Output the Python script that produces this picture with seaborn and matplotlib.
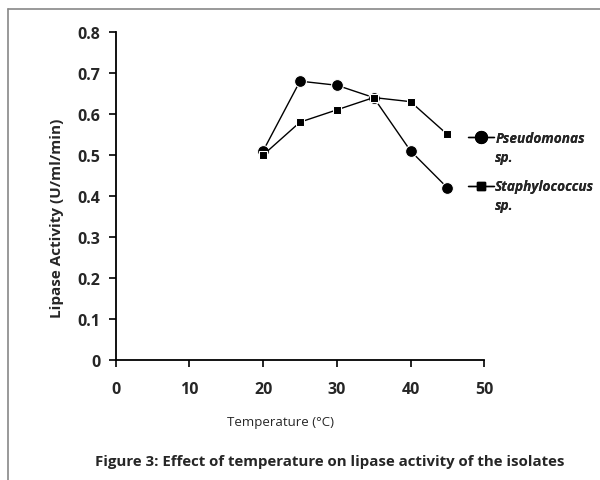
import matplotlib

matplotlib.use("Agg")
import matplotlib.pyplot as plt
import pandas as pd
import seaborn as sns
from matplotlib.lines import Line2D

sns.set_style("ticks")
plt.rcParams["font.family"] = ["Open Sans", "DejaVu Sans"]

# Data
temperature = [20, 25, 30, 35, 40, 45]
pseudomonas = [0.51, 0.68, 0.67, 0.64, 0.51, 0.42]
staphylococcus = [0.50, 0.58, 0.61, 0.64, 0.63, 0.55]
series_names = ["Pseudomonas", "Staphylococcus"]
x_ticks = [0, 10, 20, 30, 40, 50]
y_ticks = [0, 0.1, 0.2, 0.3, 0.4, 0.5, 0.6, 0.7, 0.8]

df = pd.DataFrame(
    {
        "Temperature": temperature * 2,
        "Activity": pseudomonas + staphylococcus,
        "Isolate": [series_names[0]] * len(temperature)
        + [series_names[1]] * len(temperature),
    }
)

fig = plt.figure(figsize=(6, 4.81), dpi=100)
ax = fig.add_axes([0.193, 0.2495, 0.614, 0.682])

sns.lineplot(
    data=df,
    x="Temperature",
    y="Activity",
    hue="Isolate",
    style="Isolate",
    palette=["black", "black"],
    markers={series_names[0]: "o", series_names[1]: "s"},
    dashes=False,
    linewidth=1.0,
    ax=ax,
    legend=False,
)
for line, size in zip(ax.lines, (8.5, 5.8)):
    line.set_markersize(size)

ax.set_xlim(0, 50)
ax.set_ylim(0, 0.8)
ax.set_xticks(x_ticks)
ax.set_yticks(y_ticks)
ax.set_yticklabels([f"{v:g}" for v in y_ticks])
for spine in ("top", "right"):
    ax.spines[spine].set_visible(False)
for spine in ("left", "bottom"):
    ax.spines[spine].set_linewidth(1.3)
    ax.spines[spine].set_color("black")
ax.tick_params(direction="out", length=5, width=1.2, color="black", labelsize=11.5, pad=6)
ax.tick_params(axis="x", pad=10)
for label in ax.get_xticklabels() + ax.get_yticklabels():
    label.set_fontweight("bold")

ax.set_xlabel("Temperature (\u00b0C)", fontsize=9.5)
ax.set_ylabel("Lipase Activity (U/ml/min)", fontsize=11, fontweight="bold")
ax.xaxis.set_label_coords(0.448, -0.168)
ax.yaxis.set_label_coords(-0.141, 0.436)

# one legend block per isolate so the marker sits on the first text line
legend_props = {"size": 9.8, "style": "italic", "weight": "bold"}
blank = Line2D([], [], linestyle="none")
for name, marker, size, top in (
    (series_names[0], "o", 8.5, 0.745),
    (series_names[1], "s", 5.8, 0.645),
):
    handle = Line2D([], [], color="black", marker=marker, markersize=size, linewidth=1.0)
    leg = fig.legend(
        [handle, blank],
        [name, "sp."],
        loc="upper left",
        bbox_to_anchor=(0.764, top),
        frameon=False,
        handlelength=1.9,
        handletextpad=0.1,
        labelspacing=0.35,
        borderpad=0.2,
        prop=legend_props,
    )
    fig.add_artist(leg)

fig.text(
    0.55,
    0.04,
    "Figure 3: Effect of temperature on lipase activity of the isolates",
    ha="center",
    va="center",
    fontsize=10.8,
    fontweight="bold",
)

# thin grey frame on the top and left edges
fig.add_artist(Line2D([0.013, 1.0], [0.979, 0.979], color="#888888", linewidth=1.2))
fig.add_artist(Line2D([0.013, 0.013], [0.0, 0.979], color="#888888", linewidth=1.2))

fig.savefig("out.png", dpi=100)
